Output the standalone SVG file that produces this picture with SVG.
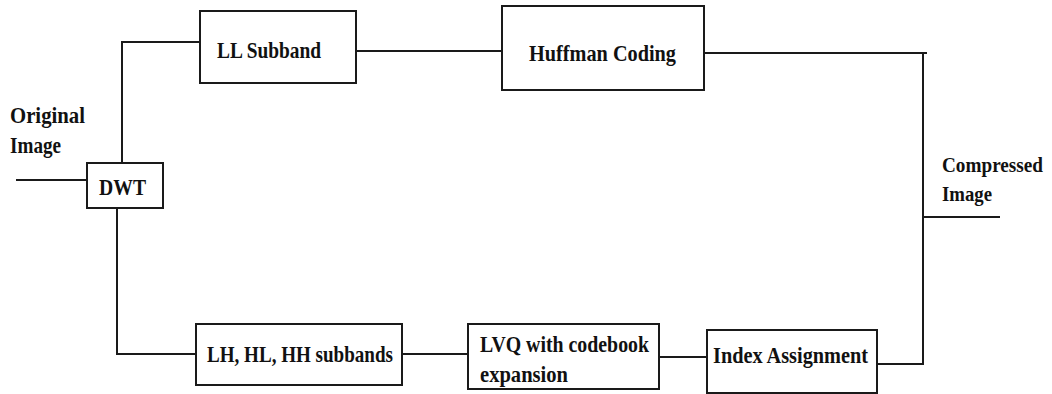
<svg xmlns="http://www.w3.org/2000/svg" width="1052" height="394" viewBox="0 0 1052 394">
<style>
.box{fill:#fff;stroke:#1a1a1a;stroke-width:2}
.ln{fill:none;stroke:#1a1a1a;stroke-width:2}
text{font-family:"Liberation Serif","Times New Roman",serif;font-weight:bold;font-size:24px;fill:#111}
.sm{font-size:20px}
</style>
<rect width="1052" height="394" fill="#fff"/>
<g id="connectors">
<polyline class="ln" points="16,180 87,180"/>
<polyline class="ln" points="122,163 122,42 200,42"/>
<polyline class="ln" points="356,51 502,51"/>
<polyline class="ln" points="704,53 927,53"/>
<polyline class="ln" points="923,53 923,364 877,364"/>
<polyline class="ln" points="923,217 1000,217"/>
<polyline class="ln" points="117,208 117,354 196,354"/>
<polyline class="ln" points="402,354 468,354"/>
<polyline class="ln" points="659,357 707,357"/>
</g>
<g id="label-original">
<text x="10" y="123" textLength="75" lengthAdjust="spacingAndGlyphs">Original</text>
<text x="10" y="153" textLength="51" lengthAdjust="spacingAndGlyphs">Image</text>
</g>
<g id="label-compressed">
<text class="sm" x="942" y="172" textLength="101" lengthAdjust="spacingAndGlyphs">Compressed</text>
<text class="sm" x="942" y="201" textLength="50" lengthAdjust="spacingAndGlyphs">Image</text>
</g>
<g id="dwt">
<rect class="box" x="87" y="163" width="76" height="45"/>
<text x="99" y="195" textLength="47" lengthAdjust="spacingAndGlyphs">DWT</text>
</g>
<g id="ll-subband">
<rect class="box" x="200" y="11" width="156" height="72"/>
<text x="217" y="58" textLength="104" lengthAdjust="spacingAndGlyphs">LL Subband</text>
</g>
<g id="huffman">
<rect class="box" x="502" y="6" width="202" height="84"/>
<text x="529" y="61" textLength="147" lengthAdjust="spacingAndGlyphs">Huffman Coding</text>
</g>
<g id="lh-hl-hh">
<rect class="box" x="196" y="324" width="206" height="61"/>
<text x="207" y="362" textLength="186" lengthAdjust="spacingAndGlyphs">LH, HL, HH subbands</text>
</g>
<g id="lvq">
<rect class="box" x="468" y="324" width="191" height="65"/>
<text x="480" y="352" textLength="169" lengthAdjust="spacingAndGlyphs">LVQ with codebook</text>
<text x="480" y="382" textLength="88" lengthAdjust="spacingAndGlyphs">expansion</text>
</g>
<g id="index-assignment">
<rect class="box" x="707" y="330" width="170" height="63"/>
<text x="713" y="363" textLength="155" lengthAdjust="spacingAndGlyphs">Index Assignment</text>
</g>
</svg>
